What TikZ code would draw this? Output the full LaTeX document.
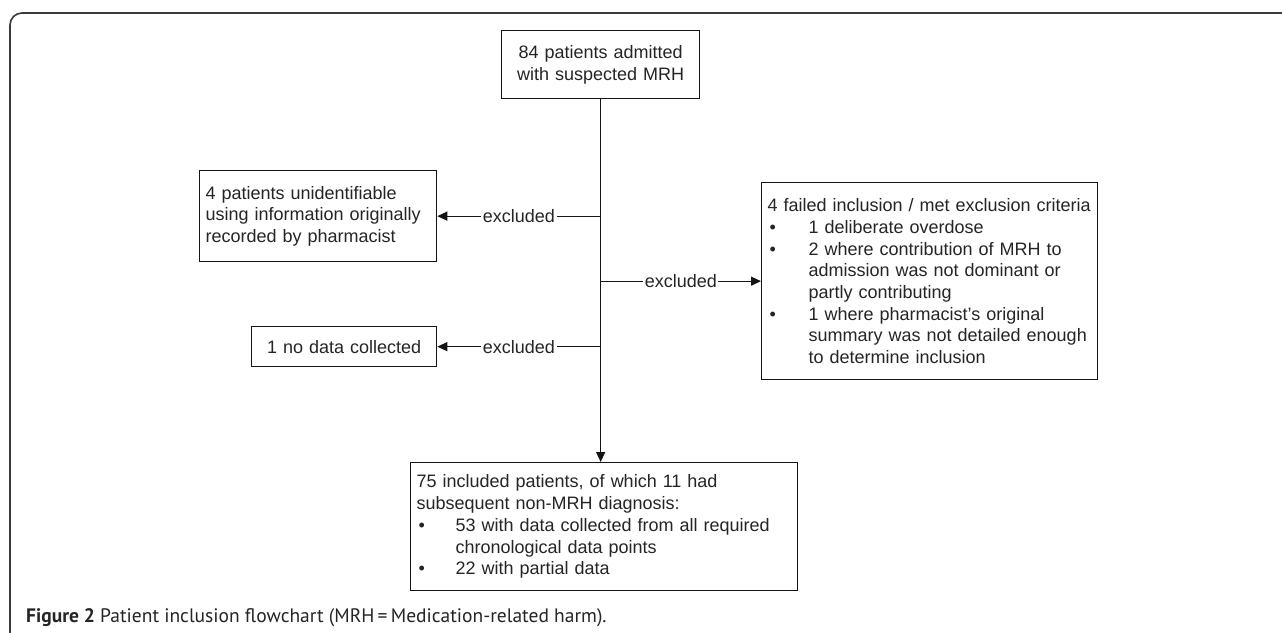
\documentclass[tikz,border=0pt]{standalone}
\usepackage{fontspec}
\setmainfont{Liberation Sans}
\newfontfamily\capfont{PT Sans}
\usetikzlibrary{arrows.meta}
\definecolor{linec}{HTML}{141414}
\definecolor{txtc}{HTML}{252525}
\definecolor{framec}{HTML}{3A3A3A}
\newcommand{\bul}{\makebox[41pt][l]{\hspace*{2pt}\textbullet}}
\newcommand{\ind}{\hspace*{41pt}}
\newcommand{\bulb}{\makebox[39pt][l]{\hspace*{2pt}\textbullet}}
\newcommand{\indb}{\hspace*{39pt}}
\begin{document}
\begin{tikzpicture}[x=1pt,y=-1pt,
  box/.style={draw=linec, line width=1.3pt, inner xsep=6pt, inner ysep=0pt,
    font=\fontsize{18}{21.7}\selectfont, text=txtc, anchor=north west, align=left},
  lbl/.style={fill=white, inner sep=1.5pt, font=\fontsize{18}{21.7}\selectfont, text=txtc},
  arr/.style={draw=linec, line width=1.3pt, -{Triangle[length=10pt,width=9pt]}},
  ln/.style={draw=linec, line width=1.3pt}]
\useasboundingbox (0,0) rectangle (1282,632);
\fill[white] (0,0) rectangle (1282,632);
% frame
\draw[framec, line width=1.6pt, rounded corners=12pt] (1290,13) -- (10,13) -- (10,640);
% boxes
\node[box, align=center, minimum width=198pt, text width=186pt, minimum height=68pt] (top) at (501,30)
  {84 patients admitted\\with suspected MRH};
\node[box, minimum width=237pt, text width=225pt, minimum height=91pt] (ex1) at (199,170)
  {4 patients unidentifiable\\using information originally\\recorded by pharmacist};
\node[box, align=center, minimum width=185pt, text width=173pt, minimum height=40pt] (ex2) at (251,326)
  {1 no data collected};
\node[box, minimum width=336pt, text width=324pt, minimum height=197pt] (ex3) at (761,182)
  {4 failed inclusion / met exclusion criteria\\
   \bul 1 deliberate overdose\\
   \bul 2 where contribution of MRH to\\
   \ind admission was not dominant or\\
   \ind partly contributing\\
   \bul 1 where pharmacist's original\\
   \ind summary was not detailed enough\\
   \ind to determine inclusion};
\node[box, minimum width=387pt, text width=375pt, minimum height=128pt] (inc) at (410,462)
  {75 included patients, of which 11 had\\
   subsequent non-MRH diagnosis:\\
   \bulb 53 with data collected from all required\\
   \indb chronological data points\\
   \bulb 22 with partial data};
% junctions
\coordinate (j1) at (top.south |- ex1.east);
\coordinate (j2) at (top.south |- ex3.west);
\coordinate (j3) at (top.south |- ex2.east);
\coordinate (jb) at (top.south |- inc.north);
% connectors
\draw[arr] (top.south) -- (jb);
\draw[arr] (j1) -- node[lbl]{excluded} (ex1.east);
\draw[arr] (j2) -- node[lbl]{excluded} (j2 -| ex3.west);
\draw[arr] (j3) -- node[lbl]{excluded} (ex2.east);
% caption
\node[anchor=base west, inner sep=0pt, text=txtc, font=\capfont\fontsize{19.5}{22}\selectfont] (cap) at (26,622)
  {\textbf{Figure 2} Patient inclusion flowchart (MRH\,=\,Medication-related harm).};
\end{tikzpicture}
\end{document}
